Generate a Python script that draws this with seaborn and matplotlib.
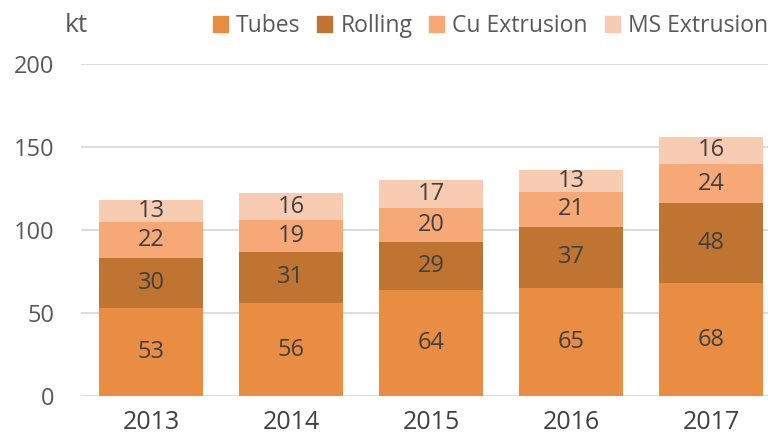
import matplotlib
matplotlib.use("Agg")
import matplotlib.pyplot as plt
import seaborn as sns
from matplotlib.patches import Patch

years = ["2013", "2014", "2015", "2016", "2017"]
series = ["Tubes", "Rolling", "Cu Extrusion", "MS Extrusion"]
tubes = [53, 56, 64, 65, 68]
rolling = [30, 31, 29, 37, 48]
cu_extrusion = [22, 19, 20, 21, 24]
ms_extrusion = [13, 16, 17, 13, 16]
colors = ["#E88D42", "#C07432", "#F6A877", "#F8CBB3"]

sns.set_theme(style="white")
plt.rcParams["font.family"] = ["Open Sans", "DejaVu Sans"]
txt = "#595959"

values = [tubes, rolling, cu_extrusion, ms_extrusion]
fig = plt.figure(figsize=(7.68, 4.48), dpi=100)
# plot area runs past the right edge, like the original crop
ax = fig.add_axes([81 / 768, 1 - 396 / 448, 700 / 768, (396 - 64) / 448])

bottom = [0] * len(years)
for name, vals, col in zip(series, values, colors):
    ax.bar(years, vals, bottom=bottom, width=0.736, color=col, label=name,
           linewidth=0, edgecolor="none", zorder=3)
    for i, v in enumerate(vals):
        ax.text(i, bottom[i] + v / 2, str(v), ha="center", va="center",
                fontsize=17, color="#404040", zorder=4)
    bottom = [b + v for b, v in zip(bottom, vals)]

ax.set_xlim(-0.5, 4.5)
ax.set_ylim(0, 200)
ax.set_yticks([0, 50, 100, 150, 200])
ax.yaxis.grid(True, color="#D9D9D9", linewidth=1.3, zorder=0)
ax.tick_params(axis="y", labelsize=17, colors=txt, pad=19, length=0)
ax.tick_params(axis="x", labelsize=18, colors="#404040", pad=10, length=0)
sns.despine(ax=ax, left=True, bottom=True, top=True, right=True)

fig.text(65 / 768, 1 - 26 / 448, "kt", fontsize=19, color=txt, va="center")

handles = [Patch(color=c) for c in colors]
fig.legend(handles, series, loc="center right", bbox_to_anchor=(1.027, 1 - 26 / 448),
           ncol=4, frameon=False, fontsize=16.5, labelcolor=txt,
           handlelength=0.65, handleheight=0.75, handletextpad=0.35, columnspacing=0.75)

fig.savefig("out.png", dpi=100)
